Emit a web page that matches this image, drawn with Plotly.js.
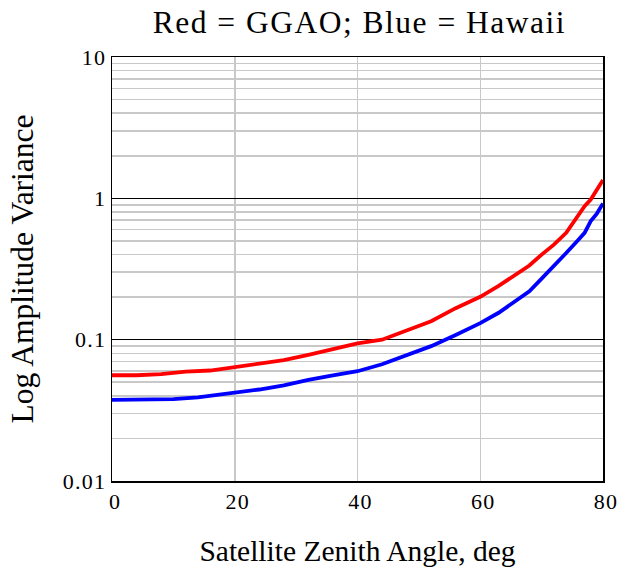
<!DOCTYPE html>
<html>
<head>
<meta charset="utf-8">
<script src="https://cdn.plot.ly/plotly-3.0.1.min.js"></script>
<style>
  html, body { margin: 0; padding: 0; background: #fff; }
  #chart { width: 624px; height: 574px; }
  /* slightly airy lettering for the title and tick labels */
  #chart .gtitle { letter-spacing: 1.5px; }
  #chart .xtick text, #chart .ytick text { letter-spacing: 1.2px; }
</style>
</head>
<body>
<div id="chart"></div>
<script>
// Satellite zenith angle (deg)
const anglesGGAO = [0, 4, 8, 12, 16, 20, 24, 28, 32, 36, 40, 44, 48, 52, 56, 60, 63, 66, 68, 70, 72, 74, 76, 77, 78, 79, 80];
// Log amplitude variance, GGAO (red)
const varianceGGAO = [0.056, 0.056, 0.057, 0.0595, 0.0605, 0.064, 0.0667, 0.0716, 0.078, 0.085, 0.094, 0.100, 0.117, 0.135, 0.167, 0.201, 0.24, 0.29, 0.335, 0.40, 0.47, 0.57, 0.75, 0.88, 0.98, 1.15, 1.35];

const anglesHawaii = [0, 4, 8, 10, 14, 18, 20, 24, 28, 32, 36, 40, 44, 48, 52, 56, 60, 63, 66, 68, 70, 72, 74, 76, 77, 78, 79, 80];
// Log amplitude variance, Hawaii (blue)
const varianceHawaii = [0.0375, 0.0375, 0.0375, 0.038, 0.039, 0.041, 0.0427, 0.0444, 0.0475, 0.052, 0.056, 0.0598, 0.067, 0.0776, 0.09, 0.108, 0.131, 0.155, 0.19, 0.22, 0.27, 0.33, 0.41, 0.51, 0.57, 0.69, 0.78, 0.92];

const xTicks = [0, 20, 40, 60, 80];
const yTickVals = [0.01, 0.1, 1, 10];
const yTickText = ['0.01', '0.1', '1', '10'];

const font = 'Liberation Serif, Times New Roman, serif';

const traces = [
  { x: anglesGGAO, y: varianceGGAO, mode: 'lines', line: { color: '#ff0000', width: 3.8 }, hoverinfo: 'skip' },
  { x: anglesHawaii, y: varianceHawaii, mode: 'lines', line: { color: '#0000ff', width: 3.8 }, hoverinfo: 'skip' }
];

const layout = {
  width: 624, height: 574,
  margin: { l: 112, r: 21, t: 57, b: 93 },
  paper_bgcolor: '#ffffff', plot_bgcolor: '#ffffff',
  showlegend: false,
  font: { family: font, color: '#000', size: 22 },
  title: { text: 'Red = GGAO; Blue = Hawaii', font: { family: font, size: 31.5, color: '#000' }, x: 0.576, xanchor: 'center', y: 0.962, yanchor: 'middle' },
  xaxis: {
    range: [0, 80], tickvals: xTicks, ticks: '', showgrid: true, gridcolor: '#c8c8c8', gridwidth: 1.5,
    zeroline: false, showline: true, linecolor: '#000', linewidth: 1.5, mirror: true,
    tickfont: { family: font, size: 22 }, ticklabelshift: 3,
    title: { text: 'Satellite Zenith Angle, deg', font: { family: font, size: 29.5 }, standoff: 27 }
  },
  yaxis: {
    type: 'log', range: [-2, 1], tickvals: yTickVals, ticktext: yTickText, ticks: '',
    showgrid: true, gridcolor: '#000', gridwidth: 1.5,
    minor: { showgrid: true, gridcolor: '#c8c8c8', gridwidth: 1.5, dtick: 'D1' },
    zeroline: false, showline: true, linecolor: '#000', linewidth: 1.5, mirror: true,
    tickfont: { family: font, size: 22 }, ticklabelstandoff: 0,
    title: { text: 'Log Amplitude Variance', font: { family: font, size: 31.5 }, standoff: 24 }
  }
};

Plotly.newPlot('chart', traces, layout, { displayModeBar: false, staticPlot: true });
</script>
</body>
</html>
